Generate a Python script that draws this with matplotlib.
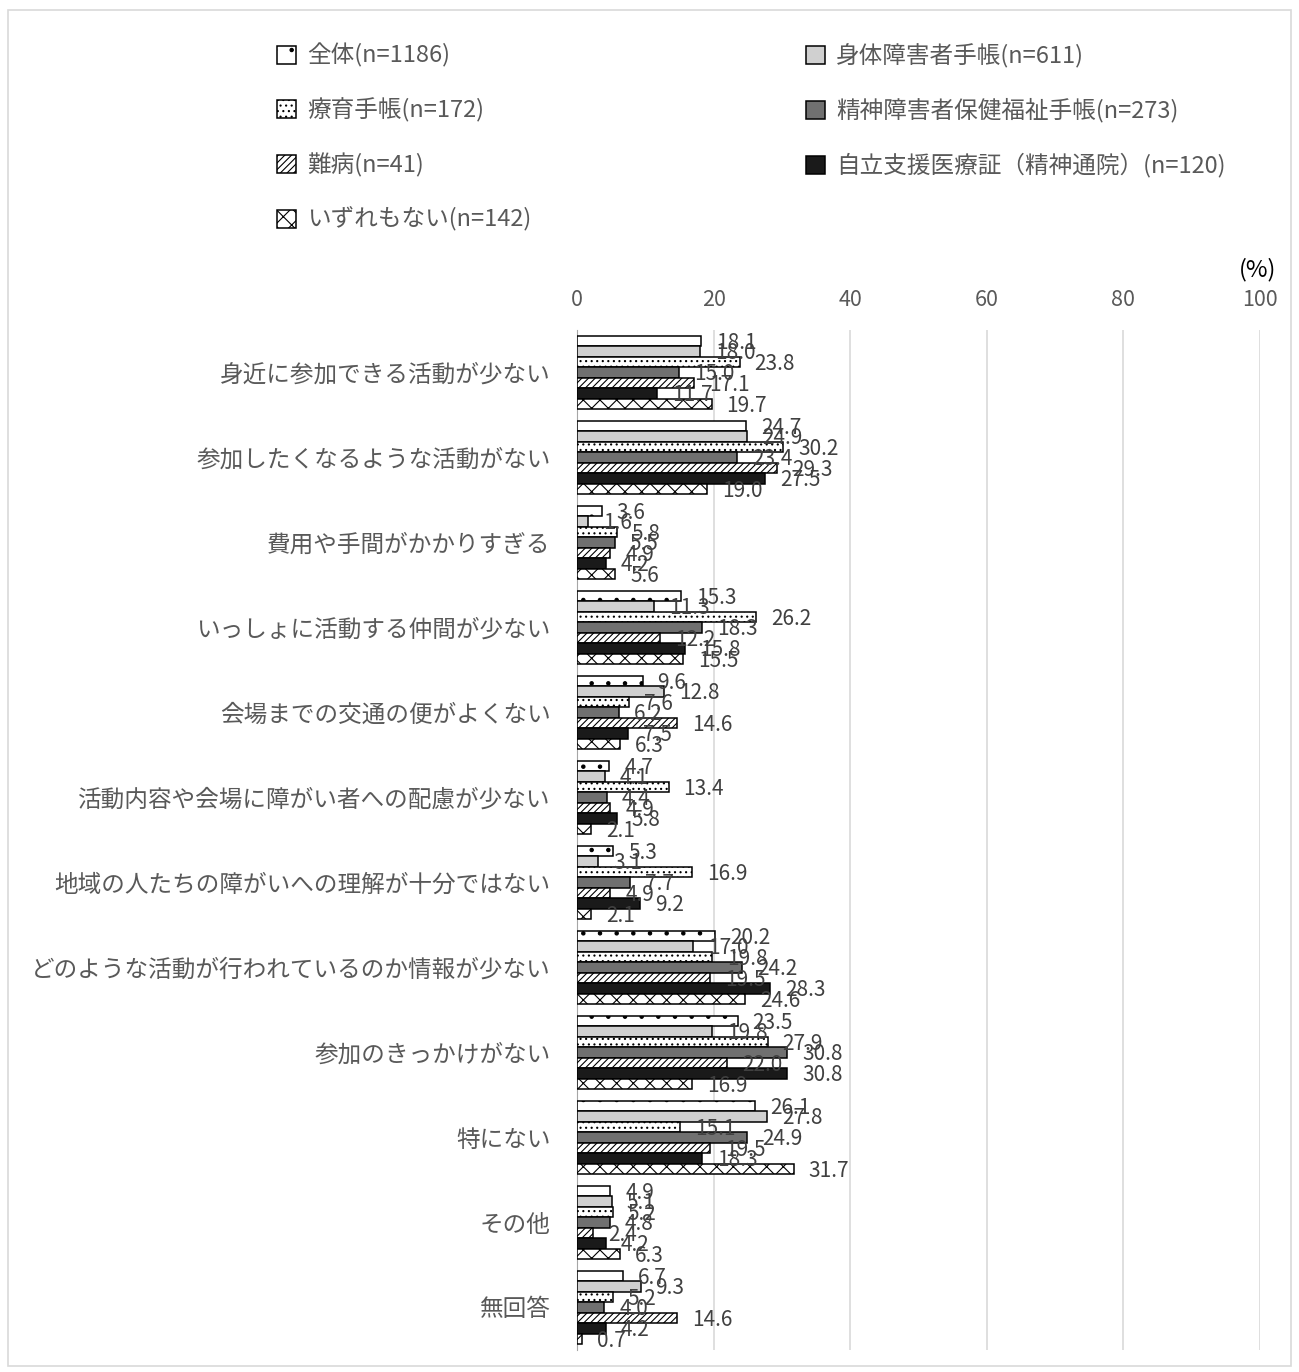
import matplotlib.pyplot as plt
import matplotlib.patches as mpatches
import numpy as np

plt.rcParams['font.family'] = ['Noto Sans CJK JP', 'DejaVu Sans']
plt.rcParams['hatch.linewidth'] = 0.8

categories = [
    "身近に参加できる活動が少ない",
    "参加したくなるような活動がない",
    "費用や手間がかかりすぎる",
    "いっしょに活動する仲間が少ない",
    "会場までの交通の便がよくない",
    "活動内容や会場に障がい者への配慮が少ない",
    "地域の人たちの障がいへの理解が十分ではない",
    "どのような活動が行われているのか情報が少ない",
    "参加のきっかけがない",
    "特にない",
    "その他",
    "無回答",
]

series_names = [
    "全体(n=1186)",
    "身体障害者手帳(n=611)",
    "療育手帳(n=172)",
    "精神障害者保健福祉手帳(n=273)",
    "難病(n=41)",
    "自立支援医療証（精神通院）(n=120)",
    "いずれもない(n=142)",
]

zentai = [18.1, 24.7, 3.6, 15.3, 9.6, 4.7, 5.3, 20.2, 23.5, 26.1, 4.9, 6.7]
shintai = [18.0, 24.9, 1.6, 11.3, 12.8, 4.1, 3.1, 17.0, 19.8, 27.8, 5.1, 9.3]
ryoiku = [23.8, 30.2, 5.8, 26.2, 7.6, 13.4, 16.9, 19.8, 27.9, 15.1, 5.2, 5.2]
seishin = [15.0, 23.4, 5.5, 18.3, 6.2, 4.4, 7.7, 24.2, 30.8, 24.9, 4.8, 4.0]
nanbyo = [17.1, 29.3, 4.9, 12.2, 14.6, 4.9, 4.9, 19.5, 22.0, 19.5, 2.4, 14.6]
jiritsu = [11.7, 27.5, 4.2, 15.8, 7.5, 5.8, 9.2, 28.3, 30.8, 18.3, 4.2, 4.2]
izure = [19.7, 19.0, 5.6, 15.5, 6.3, 2.1, 2.1, 24.6, 16.9, 31.7, 6.3, 0.7]

all_series = [zentai, shintai, ryoiku, seishin, nanbyo, jiritsu, izure]

styles = [
    dict(color='white', hatch='.'),
    dict(color='#d0d0d0', hatch=None),
    dict(color='white', hatch='...'),
    dict(color='#707070', hatch=None),
    dict(color='white', hatch='/////'),
    dict(color='#1a1a1a', hatch=None),
    dict(color='white', hatch='xx'),
]

text_color = '#595959'

fig = plt.figure(figsize=(12.99, 13.72), dpi=100)
ax = fig.add_axes([577 / 1299, 1 - 1350 / 1372, 683 / 1299, 1020 / 1372])

y = np.arange(len(categories))
h = 0.124
handles = []
for j, (vals, st) in enumerate(zip(all_series, styles)):
    pos = y + (j - 3) * h
    b = ax.barh(pos, vals, height=h, color=st['color'], hatch=st['hatch'],
                edgecolor='black', linewidth=1.1, label=series_names[j], zorder=3)
    handles.append(b)
    for p, v in zip(pos, vals):
        ax.text(v + 2.2, p + 0.02, f"{v:.1f}", va='center', ha='left',
                fontsize=15, color='#404040', zorder=4)

ax.set_xlim(0, 100)
ax.set_ylim(len(categories) - 0.5, -0.5)
ax.set_xticks(range(0, 101, 20))
ax.xaxis.tick_top()
ax.tick_params(axis='x', length=0, pad=14, labelsize=15.5, labelcolor=text_color)
ax.set_yticks(y)
ax.set_yticklabels(categories)
ax.tick_params(axis='y', length=0, pad=19, labelsize=17, labelcolor=text_color)
ax.grid(axis='x', color='#d9d9d9', linewidth=1.2, zorder=0)
for s in ['top', 'right', 'bottom']:
    ax.spines[s].set_visible(False)
ax.spines['left'].set_color('#a6a6a6')

fig.text(1258 / 1299, 1 - 270 / 1372, "(%)", ha='center', va='center',
         fontsize=17, color='black')

# legend, two columns placed separately to keep row order
left_idx = [0, 2, 4, 6]
right_idx = [1, 3, 5]
leg_kw = dict(frameon=False, fontsize=17, labelcolor=text_color,
              handlelength=0.8, handleheight=0.8, handletextpad=0.45,
              labelspacing=1.28, loc='upper left', borderaxespad=0)
leg1 = fig.legend([handles[i] for i in left_idx], [series_names[i] for i in left_idx],
                  bbox_to_anchor=(268 / 1299, 1 - 34 / 1372), **leg_kw)
leg2 = fig.legend([handles[i] for i in right_idx], [series_names[i] for i in right_idx],
                  bbox_to_anchor=(797 / 1299, 1 - 34 / 1372), **leg_kw)

fig.patches.append(mpatches.Rectangle((8 / 1299, 6 / 1372), 1283 / 1299, 1356 / 1372,
                                      transform=fig.transFigure, fill=False,
                                      edgecolor='#d9d9d9', linewidth=1.2))

fig.savefig("out.png", dpi=100)
